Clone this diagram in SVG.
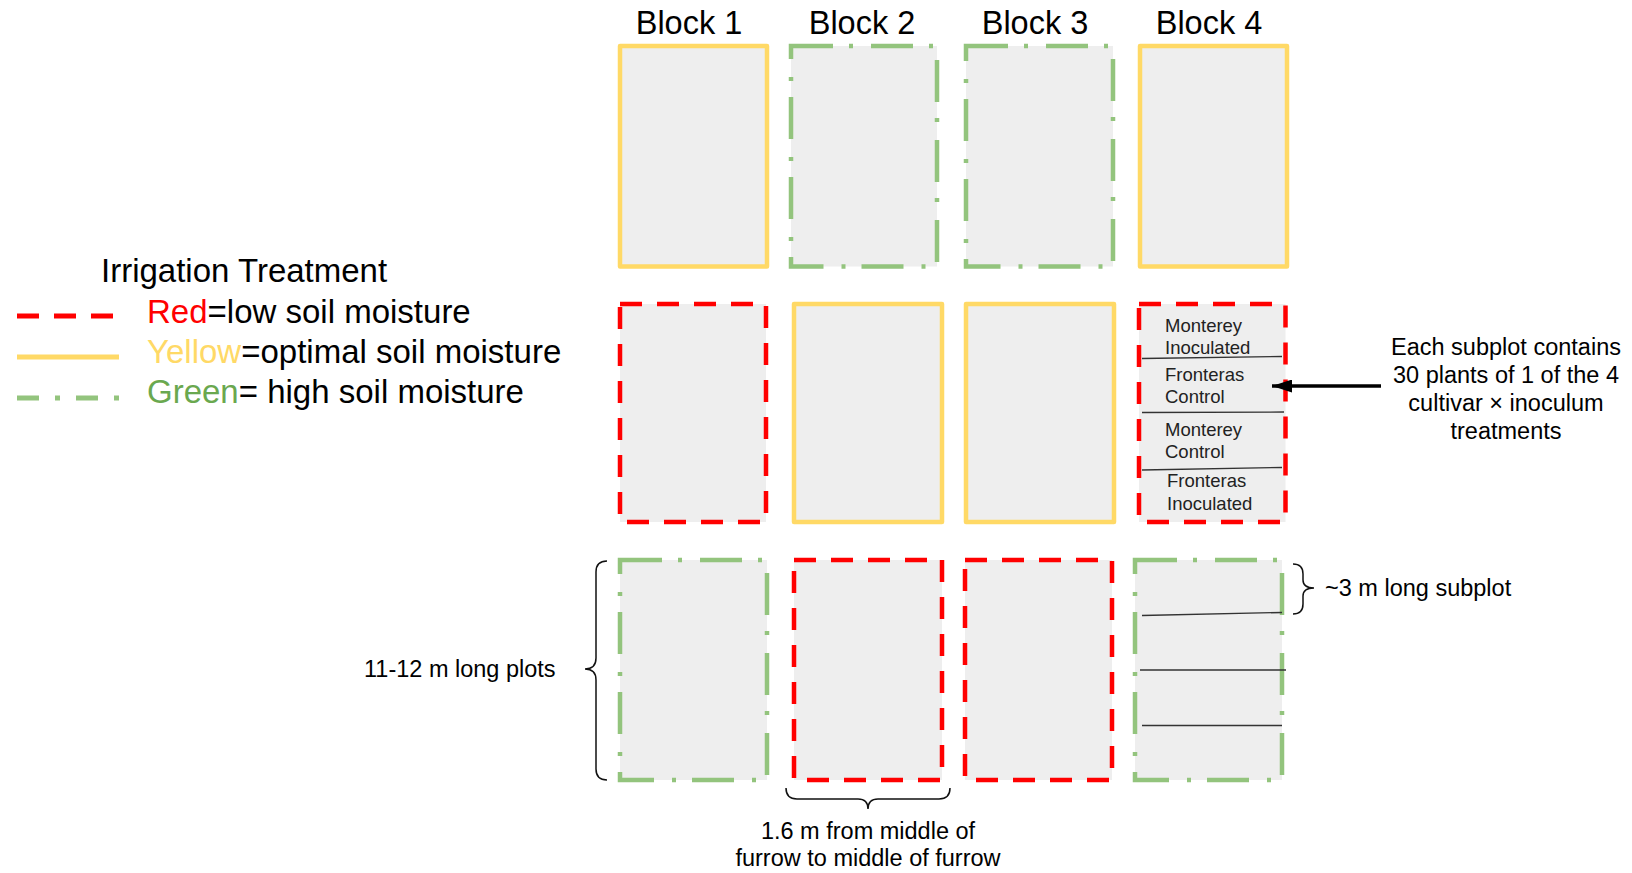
<svg xmlns="http://www.w3.org/2000/svg" width="1632" height="873" viewBox="0 0 1632 873">
<defs>
<style>
.t{font-family:"Liberation Sans",Arial,sans-serif;fill:#000}
.blk{font-size:32.5px;text-anchor:middle}
.leg{font-size:33px}
.ann{font-size:23.5px}
.sub{font-size:18.5px;fill:#222}
.plot{fill:#eeeeee;stroke-width:4.5}
.y{stroke:#ffd966;stroke-linejoin:round}
.r{stroke:#ff0000;stroke-dasharray:22 15}
.g{stroke:#93c47d;stroke-dasharray:42 16 4 18}
.div{stroke:#333;stroke-width:1.3;fill:none}
.brace{fill:none;stroke:#111;stroke-width:1.5}
</style>
<marker id="ah" markerWidth="20" markerHeight="13" refX="20" refY="6.5" orient="auto" markerUnits="userSpaceOnUse">
<path d="M0,0 L20,6.5 L0,13 Z" fill="#000"/>
</marker>
</defs>
<rect width="1632" height="873" fill="#fff"/>

<g id="block-labels">
<text class="t blk" x="689" y="34">Block 1</text>
<text class="t blk" x="862" y="34">Block 2</text>
<text class="t blk" x="1035" y="34">Block 3</text>
<text class="t blk" x="1209" y="34">Block 4</text>
</g>

<g id="legend">
<text class="t leg" x="101" y="282">Irrigation Treatment</text>
<line x1="17" y1="316" x2="114" y2="316" stroke="#ff0000" stroke-width="5" stroke-dasharray="22 15"/>
<line x1="17" y1="357" x2="119" y2="357" stroke="#ffd966" stroke-width="5"/>
<line x1="17" y1="398" x2="119" y2="398" stroke="#93c47d" stroke-width="5" stroke-dasharray="22 16 5 16"/>
<text class="t leg" x="147" y="323"><tspan fill="#ff0000">Red</tspan>=low soil moisture</text>
<text class="t leg" x="147" y="363"><tspan fill="#ffd966">Yellow</tspan>=optimal soil moisture</text>
<text class="t leg" x="147" y="403"><tspan fill="#6aa84f">Green</tspan>= high soil moisture</text>
</g>

<g id="row1">
<rect id="r1b1" class="plot y" x="620" y="46" width="147" height="220.5"/>
<rect id="r1b2" class="plot g" x="791" y="46" width="146" height="220.5"/>
<rect id="r1b3" class="plot g" x="966" y="46" width="147" height="220.5"/>
<rect id="r1b4" class="plot y" x="1140" y="46" width="147" height="220.5"/>
</g>

<g id="row2">
<rect id="r2b1" class="plot r" x="620" y="304" width="146" height="218"/>
<rect id="r2b2" class="plot y" x="794" y="304" width="148" height="218"/>
<rect id="r2b3" class="plot y" x="966" y="304" width="148" height="218"/>
<g id="r2b4">
<rect class="plot r" x="1139" y="304" width="146.5" height="218"/>
<path class="div" d="M1142 358.5 L1282 356.5 M1142 412.5 L1284 412 M1142 470 L1282 467.5"/>
<text class="t sub" x="1165" y="332">Monterey</text>
<text class="t sub" x="1165" y="354">Inoculated</text>
<text class="t sub" x="1165" y="381">Fronteras</text>
<text class="t sub" x="1165" y="403">Control</text>
<text class="t sub" x="1165" y="436">Monterey</text>
<text class="t sub" x="1165" y="458">Control</text>
<text class="t sub" x="1167" y="487">Fronteras</text>
<text class="t sub" x="1167" y="510">Inoculated</text>
</g>
</g>

<g id="row3">
<rect id="r3b1" class="plot g" x="620" y="560" width="147" height="220"/>
<rect id="r3b2" class="plot r" x="794" y="560" width="148" height="220"/>
<rect id="r3b3" class="plot r" x="965" y="560" width="147" height="220"/>
<g id="r3b4">
<rect class="plot g" x="1135" y="560" width="147" height="220"/>
<path class="div" d="M1142 615.5 L1282 612.5 M1140 670 L1286 670 M1142 725.5 L1282 725.5"/>
</g>
</g>

<g id="annotations">
<g id="subplot-note">
<text class="t ann" text-anchor="middle"><tspan x="1506" y="355">Each subplot contains</tspan><tspan x="1506" y="383">30 plants of 1 of the 4</tspan><tspan x="1506" y="411">cultivar × inoculum</tspan><tspan x="1506" y="439">treatments</tspan></text>
</g>
<g id="plot-length">
<text class="t ann" x="364" y="677">11-12 m long plots</text>
</g>
<g id="subplot-length">
<text class="t ann" x="1325" y="596">~3 m long subplot</text>
</g>
<g id="furrow">
<text class="t ann" text-anchor="middle"><tspan x="868" y="839">1.6 m from middle of</tspan><tspan x="868" y="866">furrow to middle of furrow</tspan></text>
</g>
</g>

<g id="connectors">
<line x1="1381" y1="386" x2="1272" y2="386" stroke="#000" stroke-width="3.5" marker-end="url(#ah)"/>
<path class="brace" d="M607 561 Q596 561 596 572 L596 658 Q596 669 585 669 Q596 669 596 680 L596 769 Q596 780 607 780"/>
<path class="brace" d="M1293 564 Q1303 564 1303 574 L1303 580 Q1303 588 1314 588 Q1303 588 1303 596 L1303 604 Q1303 614 1293 614"/>
<path class="brace" d="M786 788 Q786 799 797 799 L858 799 Q868 799 868 809 Q868 799 878 799 L939 799 Q950 799 950 788"/>
</g>
</svg>
